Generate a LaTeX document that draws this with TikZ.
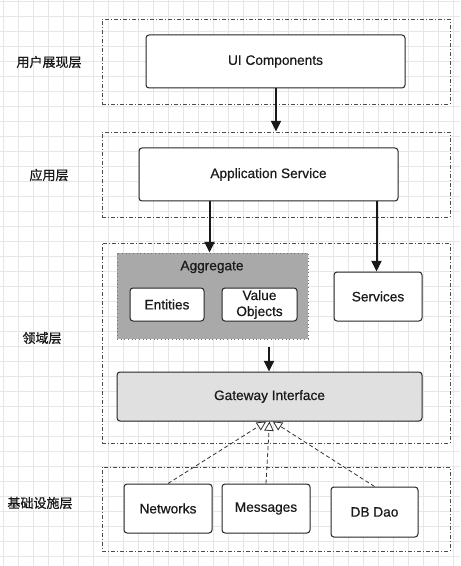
\documentclass[tikz,border=0pt]{standalone}
\usepackage{fontspec}
\setmainfont[FakeBold=0.5]{Liberation Sans}
\newfontfamily\cjk[FakeBold=0.8]{Noto Sans CJK SC}
\usetikzlibrary{arrows.meta,fit}
\definecolor{txt}{HTML}{1A1A1A}
\definecolor{gridc}{HTML}{E6E6E6}
\definecolor{aggfill}{HTML}{A9A9A9}
\definecolor{gwfill}{HTML}{E0E0E0}
\tikzset{
  layerbox/.style={draw=black!70, line width=0.7pt, dash pattern=on 3pt off 1.5pt on 0.75pt off 1.5pt, inner sep=0pt},
  compbox/.style={draw=black!85, line width=0.75pt, fill=white, rounded corners=2.25pt, inner sep=0pt, align=center, text=txt, font=\fontsize{10.25}{12}\selectfont},
  aggbox/.style={draw=black!55, line width=0.75pt, dotted, fill=aggfill, inner sep=0pt},
  layerlabel/.style={text=txt, font=\cjk\fontsize{9.75}{12}\selectfont},
  solidarrow/.style={draw=black!90, line width=1.5pt, -{Triangle[length=8pt,width=7.5pt]}},
  realize/.style={draw=black!80, line width=0.6pt, dash pattern=on 3pt off 2pt, -{Triangle[open,length=7pt,width=7pt,line width=0.6pt,fill=white]}},
}
\begin{document}
\begin{tikzpicture}[x=0.75pt,y=-0.75pt]
\useasboundingbox (0,0) rectangle (460,566);
\fill[white] (0,0) rectangle (460,566);
% background grid
\foreach \gx in {3.5,18.5,...,460} \draw[gridc, line width=0.6pt] (\gx,0) -- (\gx,566);
\foreach \gy in {1,16,...,566} \draw[gridc, line width=0.6pt] (0,\gy) -- (460,\gy);

% layer frames
\node[layerbox, fit={(102,19)(450,104)}] (L1) {};
\node[layerbox, fit={(102,132)(450,217)}] (L2) {};
\node[layerbox, fit={(102,243)(450,443)}] (L3) {};
\node[layerbox, fit={(102,467)(450,551)}] (L4) {};

% layer labels
\node[layerlabel] (t1) at (49,62) {用户展现层};
\node[layerlabel] (t2) at (49,175) {应用层};
\node[layerlabel] (t3) at (42,338) {领域层};
\node[layerlabel] (t4) at (40,503) {基础设施层};

% components
\node[compbox, minimum width=194.25pt, minimum height=39.75pt] (ui) at (275.5,61.5) {UI Components};
\node[compbox, minimum width=194.25pt, minimum height=39.75pt] (app) at (268.5,174.5) {Application Service};
\node[aggbox, minimum width=143.25pt, minimum height=64.5pt] (agg) at (212.5,296) {};
\node[text=txt, font=\fontsize{10.25}{12}\selectfont] (aggt) at (212,267) {Aggregate};
\node[compbox, minimum width=55.5pt, minimum height=24.75pt] (ent) at (167,304.5) {Entities};
\node[compbox, minimum width=56.25pt, minimum height=24.75pt] (vo) at (259.5,304.5) {Value\\Objects};
\node[compbox, minimum width=66pt, minimum height=36.75pt] (svc) at (378,296.5) {Services};
\node[compbox, fill=gwfill, minimum width=228.75pt, minimum height=36.75pt] (gw) at (269.5,396.5) {Gateway Interface};
\node[compbox, minimum width=66pt, minimum height=36.75pt] (net) at (168,508.5) {Networks};
\node[compbox, minimum width=66pt, minimum height=36.75pt] (msg) at (266,508.5) {Messages};
\node[compbox, minimum width=65.25pt, minimum height=37.5pt] (db) at (374.5,512) {DB Dao};

% connectors
\coordinate (a0) at (276,0);
\coordinate (a1) at (209.5,0);
\coordinate (a2) at (376.5,0);
\coordinate (a3) at (269,347);
\draw[solidarrow] (ui.south -| a0) -- (L2.north -| a0);
\draw[solidarrow] (app.south -| a1) -- (agg.north -| a1);
\draw[solidarrow] (app.south -| a2) -- (svc.north -| a2);
\draw[solidarrow] (a3) -- (gw.north -| a3);
\draw[realize] (net.north) -- ([xshift=-2.5pt]gw.south);
\draw[realize] (msg.north) -- (gw.south);
\draw[realize] (db.north) -- ([xshift=2.5pt]gw.south);
\end{tikzpicture}
\end{document}
